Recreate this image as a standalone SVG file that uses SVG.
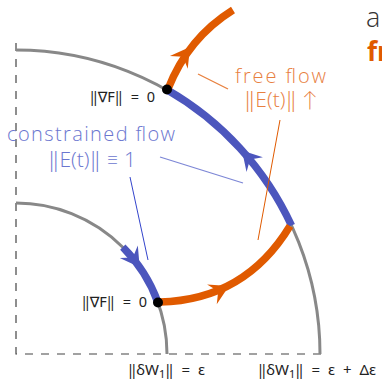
<svg xmlns="http://www.w3.org/2000/svg" width="382" height="381" viewBox="0 0 382 381">
<style>
.axis{fill:none;stroke:#444;stroke-width:1.2;stroke-dasharray:8 8}
.arc{fill:none;stroke:#888;stroke-width:3}
.blue{fill:none;stroke:#4c56bd;stroke-width:7.5}
.orange{fill:none;stroke:#e05a00;stroke-width:7.5}
.ab{fill:#4c56bd}
.ao{fill:#e05a00}
.dot{fill:#000}
.math{font-family:"Noto Sans","DejaVu Sans",sans-serif;font-size:14.5px;fill:#222}
.lbl{font-family:"Open Sans",Lato,"Noto Sans",sans-serif;font-weight:300;font-size:20px}
.dv{font-family:"Noto Sans","DejaVu Sans",sans-serif;font-weight:300}
.to{fill:#e8803f}
.tb{fill:#6b76cf}
</style>
<defs>
<path id="arr" d="M0,0 L-19,-11 L-12,0 L-19,11 Z"/>
</defs>
<g id="axes">
<path class="axis" d="M16,43 V354 H327"/>
</g>
<g id="level-curves">
<path class="arc" d="M16,50 A304,304 0 0 1 320,354"/>
<path class="arc" d="M16,203 A151,151 0 0 1 167,354"/>
</g>
<g id="connectors">
<path class="blue" d="M291.5,225.5 A304,304 0 0 0 167,89.7"/>
<use href="#arr" class="ab" transform="translate(242,150.6) rotate(228)"/>
<path class="blue" d="M122.8,247.2 A151,151 0 0 1 157.9,302.4"/>
<use href="#arr" class="ab" transform="translate(139.7,267.3) rotate(55)"/>
<path class="orange" d="M168,89 Q188,38 233,10"/>
<use href="#arr" class="ao" transform="translate(190,47) rotate(-54)"/>
<path class="orange" d="M160,302 Q245,300 290,226"/>
<use href="#arr" class="ao" transform="translate(229,286) rotate(-26)"/>
<line x1="198" y1="74" x2="228" y2="89" stroke="#e8803f" stroke-width="1.3"/>
<line x1="280" y1="120" x2="258" y2="240" stroke="#e05a00" stroke-width="1"/>
<line x1="160" y1="157" x2="243" y2="183" stroke="#7d87d6" stroke-width="1.3"/>
<line x1="130" y1="177" x2="148" y2="260" stroke="#3344cc" stroke-width="1"/>
</g>
<g id="critical-outer">
<circle class="dot" cx="167" cy="89.5" r="5"/>
<text class="math" x="155" y="102" text-anchor="end">‖∇F‖ <tspan dx="4">=</tspan> <tspan dx="4">0</tspan></text>
</g>
<g id="critical-inner">
<circle class="dot" cx="158" cy="302.5" r="5"/>
<text class="math" x="147" y="307" text-anchor="end">‖∇F‖ <tspan dx="4">=</tspan> <tspan dx="4">0</tspan></text>
</g>
<g id="free-flow-label">
<text class="lbl to" x="235" y="83" textLength="91" lengthAdjust="spacing">free flow</text>
<text class="lbl to" x="281" y="107" text-anchor="middle" style="font-size:21px"><tspan class="dv">‖</tspan>E(t)<tspan class="dv">‖</tspan> ↑</text>
</g>
<g id="constrained-flow-label">
<text class="lbl tb" x="7" y="141" textLength="168" lengthAdjust="spacing">constrained flow</text>
<text class="lbl tb" x="92" y="167" text-anchor="middle" style="font-size:21px"><tspan class="dv">‖</tspan>E(t)<tspan class="dv">‖</tspan> ≡ 1</text>
</g>
<g id="axis-labels">
<text class="math" x="128" y="375" style="font-size:15px">‖δW<tspan font-size="11" dy="3">1</tspan><tspan dy="-3">‖</tspan> <tspan dx="4">=</tspan> <tspan dx="4">ε</tspan></text>
<text class="math" x="258" y="375" style="font-size:15px">‖δW<tspan font-size="11" dy="3">1</tspan><tspan dy="-3">‖</tspan> <tspan dx="4">=</tspan> <tspan dx="4">ε</tspan> <tspan dx="4">+</tspan> <tspan dx="4">Δε</tspan></text>
</g>
<g id="cut-text">
<text x="366" y="27" style="font-family:'Open Sans',Lato,sans-serif;font-weight:300;font-size:27px;fill:#333">a</text>
<text x="367" y="61" style="font-family:'Open Sans',Lato,sans-serif;font-weight:700;font-size:26px;fill:#e05a00">fr</text>
</g>
</svg>
